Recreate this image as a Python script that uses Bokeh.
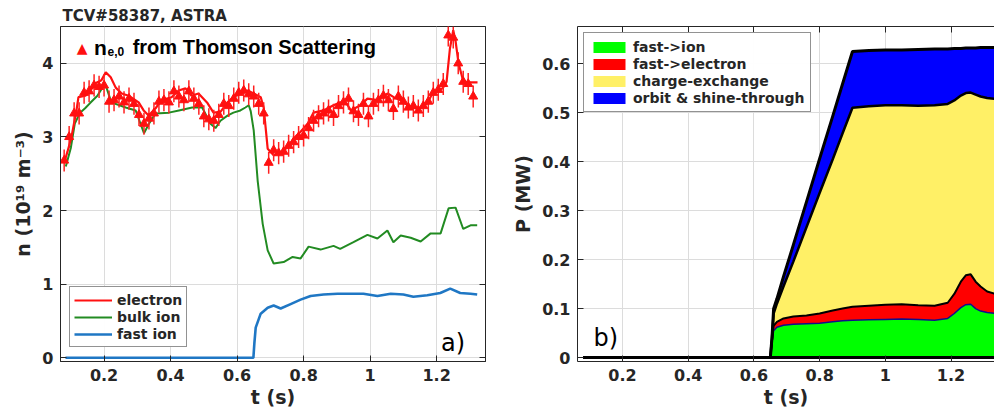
import numpy as np
from bokeh.plotting import figure
from bokeh.layouts import row
from bokeh.models import (ColumnDataSource, Legend, LegendItem, Label, Range1d, Title,
                          FixedTicker, LinearAxis, CustomJSTickFormatter)
from bokeh.embed import file_html
from bokeh.resources import INLINE

FONT = "DejaVu Sans"
AX = "#262626"

# ---------------- panel a) densities ----------------
x_ticks = [0.2, 0.4, 0.6, 0.8, 1.0, 1.2]
n_ticks = [0, 1, 2, 3, 4]
p_ticks = [0, 0.1, 0.2, 0.3, 0.4, 0.5, 0.6]

el_t = [0.08, 0.09, 0.102, 0.117, 0.123, 0.144, 0.159, 0.174, 0.192, 0.205, 0.22, 0.235, 0.253,
        0.274, 0.304, 0.319, 0.334, 0.355, 0.373, 0.403, 0.424, 0.445, 0.463, 0.484, 0.511, 0.529,
        0.55, 0.571, 0.589, 0.61, 0.632, 0.65, 0.671, 0.68, 0.692, 0.71, 0.731, 0.752, 0.77, 0.791,
        0.812, 0.83, 0.86, 0.89, 0.911, 0.93, 0.942, 0.971, 0.992, 1.022, 1.053, 1.071, 1.092,
        1.122, 1.152, 1.173, 1.188, 1.203, 1.218, 1.23, 1.24, 1.25, 1.257, 1.266, 1.281, 1.3, 1.323]
el_n = [2.65, 2.8, 3.0, 3.36, 3.54, 3.56, 3.63, 3.73, 3.77, 3.88, 3.81, 3.67, 3.59,
        3.56, 3.47, 3.36, 3.29, 3.39, 3.5, 3.54, 3.63, 3.66, 3.56, 3.59, 3.46, 3.33,
        3.34, 3.47, 3.54, 3.59, 3.63, 3.59, 3.54, 3.4, 2.84, 2.75, 2.79, 2.86, 2.98, 3.07,
        3.18, 3.33, 3.36, 3.43, 3.47, 3.45, 3.36, 3.43, 3.52, 3.5, 3.59, 3.54, 3.5,
        3.4, 3.39, 3.46, 3.6, 3.63, 3.66, 3.75, 4.2, 4.45, 4.3, 4.0, 3.74, 3.74, 3.74]

bi_t = [0.085, 0.1, 0.112, 0.128, 0.143, 0.158, 0.18, 0.195, 0.205, 0.222, 0.265, 0.295, 0.32,
        0.335, 0.355, 0.395, 0.425, 0.465, 0.495, 0.52, 0.535, 0.55, 0.571, 0.589, 0.61, 0.625,
        0.635, 0.641, 0.65, 0.662, 0.677, 0.692, 0.71, 0.74, 0.767, 0.791, 0.815, 0.851, 0.89,
        0.91, 0.95, 0.992, 1.022, 1.052, 1.07, 1.092, 1.122, 1.152, 1.182, 1.212, 1.236, 1.257,
        1.28, 1.302, 1.322]
bi_n = [2.6, 2.85, 3.18, 3.33, 3.39, 3.46, 3.56, 3.67, 3.7, 3.47, 3.4, 3.36, 3.05,
        3.18, 3.32, 3.33, 3.36, 3.4, 3.4, 3.18, 3.12, 3.22, 3.29, 3.33, 3.36, 3.4,
        3.43, 3.35, 3.09, 2.4, 1.82, 1.46, 1.28, 1.3, 1.37, 1.35, 1.51, 1.47, 1.52,
        1.48, 1.57, 1.67, 1.62, 1.73, 1.57, 1.66, 1.63, 1.58, 1.69, 1.69, 2.03, 2.04,
        1.75, 1.8, 1.8]

fi_t = [0.084, 0.649, 0.652, 0.656, 0.671, 0.692, 0.71, 0.731, 0.761, 0.791, 0.821, 0.86, 0.902,
        0.941, 0.98, 1.022, 1.062, 1.1, 1.13, 1.172, 1.211, 1.241, 1.271, 1.302, 1.322]
fi_n = [0.0, 0.0, 0.2, 0.41, 0.6, 0.68, 0.71, 0.67, 0.73, 0.79, 0.84, 0.86, 0.87,
        0.87, 0.87, 0.84, 0.87, 0.86, 0.83, 0.85, 0.88, 0.94, 0.88, 0.87, 0.86]

ts_t = [0.080, 0.095, 0.110, 0.125, 0.140, 0.155, 0.170, 0.185, 0.200, 0.215, 0.230, 0.245,
        0.260, 0.275, 0.290, 0.305, 0.320, 0.335, 0.350, 0.365, 0.380, 0.395, 0.410, 0.425,
        0.440, 0.455, 0.470, 0.485, 0.500, 0.515, 0.530, 0.545, 0.560, 0.575, 0.590, 0.605,
        0.620, 0.635, 0.650, 0.665, 0.680, 0.695, 0.710, 0.725, 0.740, 0.755, 0.770, 0.785,
        0.800, 0.815, 0.830, 0.845, 0.860, 0.875, 0.890, 0.905, 0.920, 0.935, 0.950, 0.965,
        0.980, 0.995, 1.010, 1.025, 1.040, 1.055, 1.070, 1.085, 1.100, 1.115, 1.130, 1.145,
        1.160, 1.175, 1.190, 1.205, 1.220, 1.235, 1.250, 1.265, 1.280, 1.295, 1.310]
ts_n = [2.68, 3.0, 3.32, 3.32, 3.6, 3.62, 3.7, 3.68, 3.7, 3.48, 3.5, 3.55,
        3.47, 3.52, 3.45, 3.3, 3.18, 3.25, 3.32, 3.48, 3.5, 3.47, 3.62, 3.55,
        3.5, 3.62, 3.52, 3.45, 3.28, 3.24, 3.22, 3.3, 3.45, 3.42, 3.52, 3.6,
        3.63, 3.58, 3.55, 3.45, 3.32, 2.65, 2.82, 2.78, 2.8, 2.88, 2.93, 3.0,
        3.02, 3.12, 3.22, 3.28, 3.32, 3.36, 3.3, 3.42, 3.47, 3.52, 3.35, 3.3,
        3.45, 3.28, 3.45, 3.5, 3.56, 3.5, 3.38, 3.55, 3.48, 3.4, 3.42, 3.36,
        3.42, 3.48, 3.6, 3.64, 3.72, 4.38, 4.35, 4.0, 3.75, 3.72, 3.55]
ts_err = 0.15

# ---------------- panel b) power balance (stacked) ----------------
pw_t = [0.08, 0.65, 0.655, 0.66, 0.67, 0.69, 0.72, 0.76, 0.80, 0.84, 0.87, 0.90, 0.95,
        1.00, 1.05, 1.10, 1.15, 1.19, 1.21, 1.23, 1.245, 1.26, 1.275, 1.29, 1.31, 1.335]
fast_ion = [0, 0, 0.03, 0.055, 0.062, 0.066, 0.068, 0.069, 0.07, 0.073, 0.075, 0.076, 0.077,
            0.078, 0.079, 0.078, 0.076, 0.08, 0.09, 0.102, 0.108, 0.109, 0.1, 0.095, 0.092, 0.09]
fast_el = [0, 0, 0.005, 0.01, 0.011, 0.014, 0.016, 0.017, 0.02, 0.023, 0.025, 0.028, 0.029,
           0.03, 0.03, 0.029, 0.03, 0.032, 0.04, 0.053, 0.06, 0.061, 0.055, 0.05, 0.043, 0.04]
cx_loss = [0, 0, 0.005, 0.025, 0.037, 0.065, 0.112, 0.18, 0.246, 0.309, 0.358, 0.406, 0.407,
           0.407, 0.406, 0.407, 0.409, 0.406, 0.395, 0.38, 0.372, 0.371, 0.382, 0.388, 0.395, 0.398]
orbit_st = [0, 0, 0.0, 0.01, 0.01, 0.02, 0.034, 0.052, 0.07, 0.088, 0.101, 0.115, 0.114,
            0.113, 0.113, 0.115, 0.115, 0.112, 0.106, 0.096, 0.092, 0.091, 0.095, 0.1, 0.103, 0.105]
pw_labels = ["fast->ion", "fast->electron", "charge-exchange", "orbit & shine-through"]
pw_colors = ["#00ff00", "#ff0000", "#fff066", "#0000ff"]
pw_edges = ["#10108a", "black", "black", "black"]
pw_edge_w = [1.5, 2, 2.5, 3]

fmt = CustomJSTickFormatter(code="return String(Math.round(tick*10)/10);")
blank = CustomJSTickFormatter(code="return '';")


def style(p, yticks):
    p.xaxis.ticker = FixedTicker(ticks=x_ticks)
    p.yaxis.ticker = FixedTicker(ticks=yticks)
    p.xgrid.ticker = FixedTicker(ticks=x_ticks)
    p.ygrid.ticker = FixedTicker(ticks=yticks)
    p.grid.grid_line_color = "#dcdcdc"
    p.grid.grid_line_width = 1
    for ax in p.axis:
        ax.formatter = fmt
        ax.major_tick_in = 6
        ax.major_tick_out = 0
        ax.minor_tick_line_color = None
        ax.axis_line_color = AX
        ax.major_tick_line_color = AX
        ax.major_label_text_font = FONT
        ax.major_label_text_font_style = "bold"
        ax.major_label_text_font_size = "16px"
        ax.major_label_text_color = AX
        ax.axis_label_text_font = FONT
        ax.axis_label_text_font_style = "bold"
        ax.axis_label_text_font_size = "19px"
        ax.axis_label_text_color = AX
    p.xaxis.major_label_standoff = 7
    p.xaxis.axis_label_standoff = 2
    p.yaxis.major_label_standoff = 7
    p.yaxis.axis_label_standoff = 5
    p.background_fill_color = "white"
    p.border_fill_color = "white"


def blank_axis(place_ticks):
    return LinearAxis(ticker=FixedTicker(ticks=place_ticks), formatter=blank,
                      major_tick_in=6, major_tick_out=0, minor_tick_line_color=None,
                      axis_line_color=AX, major_tick_line_color=AX,
                      major_label_standoff=0)


# ---------- left figure ----------
p1 = figure(width=508, height=412, x_range=Range1d(0.069, 1.347), y_range=Range1d(-0.05, 4.5),
            output_backend="svg", toolbar_location=None,
            min_border_left=60, min_border_right=23, min_border_top=26, min_border_bottom=51,
            x_axis_label="t (s)", y_axis_label="n (10¹⁹ m⁻³)")
p1.title = Title(text="TCV#58387, ASTRA", align="left", offset=2, text_font=FONT,
                 text_font_size="15px", text_font_style="bold", text_color=AX, standoff=3)
p1.outline_line_color = AX
style(p1, n_ticks)
p1.add_layout(blank_axis(n_ticks), "right")

r_bi = p1.line(bi_t, bi_n, line_color="#228b22", line_width=2)
r_fi = p1.line(fi_t, fi_n, line_color="#1f77c4", line_width=2.6)
r_el = p1.line(el_t, el_n, line_color="#ff1010", line_width=2.2)
ts_lo = [v - ts_err for v in ts_n]
ts_hi = [v + ts_err for v in ts_n]
p1.segment(x0=ts_t, y0=ts_lo, x1=ts_t, y1=ts_hi, line_color="#ff2020", line_width=1.5)
p1.scatter(ts_t, ts_n, marker="triangle", size=9, fill_color="#ff1010", line_color="#ff1010")

leg1 = Legend(items=[LegendItem(label="electron", renderers=[r_el]),
                     LegendItem(label="bulk ion", renderers=[r_bi]),
                     LegendItem(label="fast ion", renderers=[r_fi])],
              location=(9, 14), border_line_color=AX, border_line_width=1,
              label_text_font=FONT, label_text_font_style="bold", label_text_font_size="14px",
              label_text_color=AX, glyph_width=38, glyph_height=16, label_height=17,
              padding=4, spacing=0, margin=0, label_standoff=5)
p1.add_layout(leg1)

p1.add_layout(Label(x=0.118, y=4.21, text="▲", text_color="#ff1010", text_font=FONT,
                    text_font_size="14px", text_baseline="middle"))
p1.add_layout(Label(x=0.170, y=4.22, text="n", text_color="black", text_font="Liberation Sans",
                    text_font_size="21px", text_font_style="bold", text_baseline="alphabetic"))
p1.add_layout(Label(x=0.2105, y=4.16, text="e,0", text_color="black", text_font="Liberation Sans",
                    text_font_size="12px", text_font_style="bold", text_baseline="alphabetic"))
p1.add_layout(Label(x=0.2860, y=4.22, text="from Thomson Scattering", text_color="black",
                    text_font="Liberation Sans", text_font_size="20px", text_font_style="bold",
                    text_baseline="alphabetic"))
p1.add_layout(Label(x=1.2135, y=0.20, text="a)", text_color="black", text_font=FONT,
                    text_font_size="24px", text_baseline="alphabetic"))

# ---------- right figure ----------
p2 = figure(width=486, height=412, x_range=Range1d(0.063, 1.3324), y_range=Range1d(-0.008, 0.676),
            output_backend="svg", toolbar_location=None,
            min_border_left=69, min_border_right=0, min_border_top=26, min_border_bottom=51,
            x_axis_label="t (s)", y_axis_label="P (MW)")
p2.outline_line_color = None
style(p2, p_ticks)
p2.add_layout(blank_axis(x_ticks), "above")

src2 = ColumnDataSource(dict(t=pw_t, fi=fast_ion, fe=fast_el, cx=cx_loss, os=orbit_st))
stk = ["fi", "fe", "cx", "os"]
areas = p2.varea_stack(stackers=stk, x="t", color=pw_colors, source=src2)
edges = p2.vline_stack(stackers=stk, x="t", color=pw_edges, source=src2)
for r, w in zip(edges, pw_edge_w):
    r.glyph.line_width = w
p2.line(x="t", y=0, source=src2, line_color="black", line_width=3)

leg2 = Legend(items=[LegendItem(label=lab, renderers=[r]) for lab, r in zip(pw_labels, areas)],
              location="top_left", margin=6, border_line_color=AX, border_line_width=1,
              label_text_font=FONT, label_text_font_style="bold", label_text_font_size="14px",
              label_text_color=AX, glyph_width=40, glyph_height=14, label_height=17,
              padding=5, spacing=0, label_standoff=4)
p2.add_layout(leg2)
p2.add_layout(Label(x=0.1117, y=0.040, text="b)", text_color="black", text_font=FONT,
                    text_font_size="24px", text_baseline="alphabetic"))

layout = row(p1, p2)
open("out.html", "w").write(file_html(layout, INLINE))
